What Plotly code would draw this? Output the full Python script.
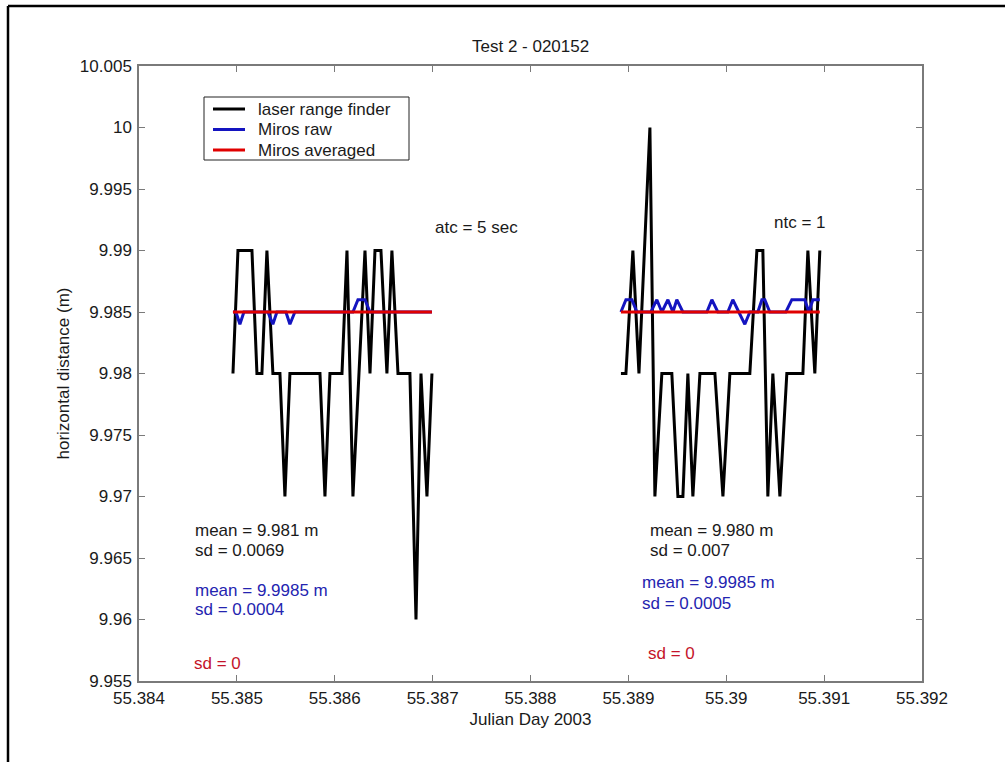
import plotly.graph_objects as go

# ---------------- data ----------------
laser_left_t = [55.384960, 55.385011, 55.385154, 55.385205, 55.385256, 55.385307, 55.385368,
                55.385440, 55.385491, 55.385542, 55.385849, 55.385900, 55.385951, 55.386074,
                55.386125, 55.386186, 55.386309, 55.386360, 55.386411, 55.386472, 55.386533,
                55.386584, 55.386646, 55.386768, 55.386830, 55.386881, 55.386942, 55.386993]
laser_left_v = [9.98, 9.99, 9.99, 9.98, 9.98, 9.99, 9.98,
                9.98, 9.97, 9.98, 9.98, 9.97, 9.98, 9.98,
                9.99, 9.97, 9.99, 9.98, 9.99, 9.99, 9.98,
                9.99, 9.98, 9.98, 9.96, 9.98, 9.97, 9.98]

laser_right_t = [55.388924, 55.388975, 55.389046, 55.389108, 55.389220, 55.389271, 55.389342,
                 55.389444, 55.389506, 55.389557, 55.389608, 55.389659, 55.389731, 55.389884,
                 55.389966, 55.390037, 55.390241, 55.390313, 55.390374, 55.390425, 55.390476,
                 55.390548, 55.390619, 55.390783, 55.390834, 55.390905, 55.390956]
laser_right_v = [9.98, 9.98, 9.99, 9.98, 10.00, 9.97, 9.98,
                 9.98, 9.97, 9.97, 9.98, 9.97, 9.98, 9.98,
                 9.97, 9.98, 9.98, 9.99, 9.99, 9.97, 9.98,
                 9.97, 9.98, 9.98, 9.99, 9.98, 9.99]

raw_left_t = [55.384960, 55.384990, 55.385031, 55.385072, 55.385317, 55.385368, 55.385409,
              55.385501, 55.385542, 55.385593, 55.386186, 55.386237, 55.386309, 55.386360,
              55.386993]
raw_left_v = [9.985, 9.985, 9.984, 9.985, 9.985, 9.984, 9.985,
              9.985, 9.984, 9.985, 9.985, 9.986, 9.986, 9.985,
              9.985]

raw_right_t = [55.388924, 55.388975, 55.389036, 55.389087, 55.389230, 55.389291, 55.389342,
               55.389404, 55.389455, 55.389495, 55.389557, 55.389802, 55.389853, 55.389914,
               55.390016, 55.390067, 55.390128, 55.390190, 55.390241, 55.390323, 55.390364,
               55.390394, 55.390445, 55.390609, 55.390670, 55.390803, 55.390844, 55.390885,
               55.390956]
raw_right_v = [9.985, 9.986, 9.986, 9.985, 9.985, 9.986, 9.985,
               9.986, 9.985, 9.986, 9.985, 9.985, 9.986, 9.985,
               9.985, 9.986, 9.985, 9.984, 9.985, 9.985, 9.986,
               9.986, 9.985, 9.985, 9.986, 9.986, 9.985, 9.986,
               9.986]

avg_left_t = [55.384960, 55.386993]
avg_right_t = [55.388924, 55.390956]
avg_value = 9.985

x_ticks = [55.384, 55.385, 55.386, 55.387, 55.388, 55.389, 55.390, 55.391, 55.392]
x_tick_labels = ["55.384", "55.385", "55.386", "55.387", "55.388", "55.389", "55.39", "55.391", "55.392"]
y_ticks = [9.955, 9.960, 9.965, 9.970, 9.975, 9.980, 9.985, 9.990, 9.995, 10.000, 10.005]
y_tick_labels = ["9.955", "9.96", "9.965", "9.97", "9.975", "9.98", "9.985", "9.99", "9.995", "10", "10.005"]

series_names = ["laser range finder", "Miros raw", "Miros averaged"]

# ---------------- figure ----------------
W, H = 1005, 762
ML, MR, MT, MB = 139, 83, 66, 81
PW, PH = W - ML - MR, H - MT - MB


def px(xp, yp):
    return (xp - ML) / PW, (H - MB - yp) / PH


FONT = "Liberation Sans, Arial, sans-serif"
TXT = "#1a1a1a"
BLUE = "#1414c0"
RED = "#e00000"
TXT_BLUE = "#2424b0"
TXT_RED = "#c4142a"
LW = 3.0
colors = ["black", BLUE, RED]


def joined(a_t, a_v, b_t, b_v):
    return a_t + [None] + b_t, a_v + [None] + b_v


fig = go.Figure()
lx, ly = joined(laser_left_t, laser_left_v, laser_right_t, laser_right_v)
fig.add_trace(go.Scatter(x=lx, y=ly, mode="lines", name=series_names[0],
                         line=dict(color=colors[0], width=LW), connectgaps=False))
bx, by = joined(raw_left_t, raw_left_v, raw_right_t, raw_right_v)
fig.add_trace(go.Scatter(x=bx, y=by, mode="lines", name=series_names[1],
                         line=dict(color=colors[1], width=LW), connectgaps=False))
rx, ry = joined(avg_left_t, [avg_value] * len(avg_left_t), avg_right_t, [avg_value] * len(avg_right_t))
fig.add_trace(go.Scatter(x=rx, y=ry, mode="lines", name=series_names[2],
                         line=dict(color=colors[2], width=LW), connectgaps=False))

axis_common = dict(showgrid=False, zeroline=False, showline=True, linecolor="#7a7a7a",
                   linewidth=1.5, mirror="ticks", ticks="inside", ticklen=6,
                   tickcolor="#7a7a7a", tickwidth=1,
                   tickfont=dict(family=FONT, size=17, color=TXT))

fig.update_xaxes(range=[55.384, 55.392], tickmode="array", tickvals=x_ticks, ticktext=x_tick_labels,
                 ticklabelstandoff=1,
                 title=dict(text="Julian Day 2003", standoff=6, font=dict(family=FONT, size=17, color=TXT)),
                 **axis_common)
fig.update_yaxes(range=[9.955, 10.005], tickmode="array", tickvals=y_ticks, ticktext=y_tick_labels,
                 ticklabelstandoff=2,
                 title=dict(text="horizontal distance (m)", standoff=6, font=dict(family=FONT, size=17, color=TXT)),
                 **axis_common)

texts = [
    ("Test 2 - 020152", 530, 47, TXT, "center"),
    ("atc = 5 sec", 433, 227, TXT, "left"),
    ("ntc = 1", 772, 222, TXT, "left"),
    ("mean = 9.981 m", 193, 530, TXT, "left"),
    ("sd = 0.0069", 193, 550, TXT, "left"),
    ("mean = 9.9985 m", 193, 590, TXT_BLUE, "left"),
    ("sd = 0.0004", 193, 609, TXT_BLUE, "left"),
    ("sd = 0", 192, 663, TXT_RED, "left"),
    ("mean = 9.980 m", 648, 530, TXT, "left"),
    ("sd = 0.007", 648, 550, TXT, "left"),
    ("mean = 9.9985 m", 640, 582, TXT_BLUE, "left"),
    ("sd = 0.0005", 640, 603, TXT_BLUE, "left"),
    ("sd = 0", 646, 653, TXT_RED, "left"),
]
for t, xp_, yp_, col, anc in texts:
    ax_, ay_ = px(xp_, yp_)
    fig.add_annotation(x=ax_, y=ay_, xref="paper", yref="paper", text=t, showarrow=False,
                       xanchor=anc, yanchor="middle", font=dict(family=FONT, size=17, color=col))

# legend box drawn to match the compact MATLAB legend
bx0, by0 = px(204, 97)
bx1, by1 = px(409, 160)
fig.add_shape(type="rect", xref="paper", yref="paper", x0=bx0, y0=by0, x1=bx1, y1=by1,
              line=dict(color="#222222", width=1), fillcolor="white", layer="above")
for i, (nm, col) in enumerate(zip(series_names, colors)):
    rowy = 109 + i * 20.5
    sx0, sy = px(213, rowy)
    sx1, _ = px(245, rowy)
    fig.add_shape(type="line", xref="paper", yref="paper", x0=sx0, y0=sy, x1=sx1, y1=sy,
                  line=dict(color=col, width=LW), layer="above")
    tx, ty = px(256, rowy)
    fig.add_annotation(x=tx, y=ty, xref="paper", yref="paper", text=nm, showarrow=False,
                       xanchor="left", yanchor="middle", font=dict(family=FONT, size=17, color=TXT))

# outer frame (left and top edges visible in the picture)
fx0, fy0 = px(8, 6)
fx1, fy1 = px(1010, 770)
fig.add_shape(type="line", xref="paper", yref="paper", x0=fx0, y0=fy0, x1=fx0, y1=fy1,
              line=dict(color="black", width=2.5))
fig.add_shape(type="line", xref="paper", yref="paper", x0=fx0, y0=fy0, x1=fx1, y1=fy0,
              line=dict(color="black", width=2.5))

fig.update_layout(
    width=W, height=H,
    margin=dict(l=ML, r=MR, t=MT, b=MB, pad=0),
    paper_bgcolor="white", plot_bgcolor="white",
    font=dict(family=FONT, size=17, color=TXT),
    showlegend=False,
)

fig.write_html("out.html")
